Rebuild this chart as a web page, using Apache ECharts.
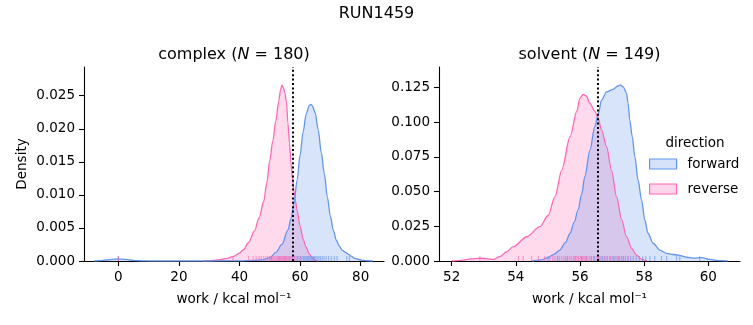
<!DOCTYPE html>
<html><head><meta charset="utf-8">
<script src="https://cdn.jsdelivr.net/npm/echarts@6/dist/echarts.min.js"></script>
<style>html,body{margin:0;padding:0;background:#fff}#c{width:753px;height:325px}</style>
</head><body><div id="c"></div>
<script>
// ---- data ----
const complexFwdX = [-8, -6, -4, -2, 0, 2, 4, 6, 8, 10, 20, 30, 40, 45, 48, 50, 52, 54, 56, 57, 58, 59, 60, 61, 62, 63, 63.5, 64, 65, 66, 67, 68, 69, 70, 71, 72, 73, 74, 75, 76, 77, 78, 80, 82, 84];
const complexFwdY = [0, 0.00005, 0.00015, 0.00026, 0.0003, 0.00026, 0.00015, 0.00006, 0.00002, 0, 0, 0, 0.00002, 0.0001, 0.0002, 0.0005, 0.0013, 0.0025, 0.0047, 0.0064, 0.0087, 0.0122, 0.0160, 0.0195, 0.0222, 0.0235, 0.0237, 0.0235, 0.0224, 0.0198, 0.0164, 0.0132, 0.0097, 0.0068, 0.0046, 0.0031, 0.0022, 0.0016, 0.0013, 0.0010, 0.0007, 0.0004, 0.00015, 0.00004, 0];
const complexRevX = [28, 30, 33, 36, 38, 40, 41.3, 43, 45, 46.5, 48, 49, 50, 51, 52, 53, 53.5, 54, 54.5, 55, 55.5, 56, 56.5, 57, 57.5, 58, 58.5, 59, 60, 61, 62, 63, 64, 65, 66];
const complexRevY = [0, 0.00005, 0.00015, 0.0004, 0.0007, 0.0012, 0.0017, 0.0028, 0.0046, 0.0066, 0.009, 0.0118, 0.0152, 0.0182, 0.0212, 0.0243, 0.0258, 0.0266, 0.0262, 0.0254, 0.0240, 0.0208, 0.0178, 0.0148, 0.0125, 0.0106, 0.009, 0.0077, 0.0053, 0.0033, 0.0021, 0.0011, 0.0005, 0.0001, 0];
const solventFwdX = [54.5, 54.8, 55.0, 55.2, 55.37, 55.55, 55.69, 55.82, 55.94, 56.05, 56.15, 56.31, 56.46, 56.57, 56.67, 56.83, 57.03, 57.18, 57.26, 57.35, 57.45, 57.5, 57.55, 57.63, 57.71, 57.81, 57.92, 58.02, 58.12, 58.28, 58.49, 58.7, 58.9, 59.06, 59.32, 59.55, 59.8, 60.05, 60.36, 60.6];
const solventFwdY = [0, 0.0008, 0.0025, 0.005, 0.0079, 0.0135, 0.02, 0.028, 0.0368, 0.048, 0.0608, 0.08, 0.0968, 0.106, 0.116, 0.122, 0.1238, 0.1262, 0.127, 0.1255, 0.121, 0.1137, 0.1017, 0.0896, 0.0752, 0.0584, 0.044, 0.0296, 0.02, 0.0128, 0.0079, 0.0055, 0.0047, 0.0043, 0.0027, 0.0021, 0.0024, 0.0012, 0.0002, 0];
const solventRevX = [52.0, 52.3, 52.6, 52.88, 53.1, 53.3, 53.5, 53.7, 53.92, 54.34, 54.75, 55.01, 55.22, 55.43, 55.69, 55.9, 56.0, 56.1, 56.2, 56.3, 56.46, 56.56, 56.67, 56.83, 56.98, 57.14, 57.3, 57.45, 57.61, 57.76, 57.92, 58.1];
const solventRevY = [0, 0.0005, 0.0015, 0.002, 0.0016, 0.0012, 0.0031, 0.0065, 0.0103, 0.0175, 0.0248, 0.033, 0.0464, 0.0656, 0.0896, 0.108, 0.1175, 0.1202, 0.119, 0.114, 0.108, 0.1035, 0.0945, 0.0824, 0.0656, 0.0464, 0.0296, 0.0175, 0.0091, 0.0043, 0.0012, 0];

const complexRugFwd = [0, 50.5, 53, 55, 56.5, 57.5, 58.3, 59, 59.6, 60.2, 60.7, 61.2, 61.6, 62, 62.4, 62.8, 63.2, 63.6, 64, 64.4, 64.8, 65.2, 65.7, 66.2, 66.7, 67.3, 67.9, 68.6, 69.4, 70.3, 71.3, 72.2, 75.4, 76.3];
const complexRugRev = [0, 37.8, 43, 44.5, 45.5, 46.5, 47.2, 48, 48.7, 49.3, 49.9, 50.4, 50.9, 51.3, 51.7, 52.1, 52.5, 52.9, 53.2, 53.5, 53.8, 54.1, 54.4, 54.7, 55.0, 55.3, 55.6, 55.9, 56.3, 56.7, 57.1, 57.6, 58.2, 59, 60];
const solventRugFwd = [55.0, 55.3, 55.6, 55.85, 56.05, 56.2, 56.35, 56.45, 56.55, 56.62, 56.7, 56.78, 56.85, 56.92, 57.0, 57.06, 57.12, 57.18, 57.24, 57.3, 57.36, 57.42, 57.5, 57.58, 57.66, 57.75, 57.85, 57.95, 58.05, 58.18, 58.33, 58.54, 58.70, 59.01, 59.11, 59.73];
const solventRugRev = [52.88, 54.08, 54.23, 54.49, 54.70, 54.90, 55.06, 55.15, 55.22, 55.30, 55.36, 55.43, 55.50, 55.55, 55.62, 55.68, 55.73, 55.79, 55.84, 55.90, 55.95, 56.00, 56.04, 56.08, 56.12, 56.16, 56.20, 56.25, 56.30, 56.36, 56.42, 56.50, 56.58, 56.66, 56.75, 56.85, 56.95, 57.05, 57.2, 57.35, 57.5];

const estimates = [57.55, 56.56];           // dotted vertical lines (complex, solvent)
const panelTitles = ['complex', 'solvent'];
const panelN = [180, 149];
const complexXTicks = [0, 20, 40, 60, 80];
const complexYTicks = [0, 0.005, 0.01, 0.015, 0.02, 0.025];
const solventXTicks = [52, 54, 56, 58, 60];
const solventYTicks = [0, 0.025, 0.05, 0.075, 0.1, 0.125];

// ---- styling ----
const FONT = 'DejaVu Sans';
const BLUE = '#6495ED', PINK = '#FF69B4';
const FS = 13.5, FT = 16;
const zip = (xs, ys) => xs.map((x, i) => [x, ys[i]]);

function xAxis(gi, min, max, ticks) {
  return {type: 'value', gridIndex: gi, min, max,
    name: 'work / kcal mol\u207B\u00B9', nameLocation: 'middle', nameGap: 31,
    nameTextStyle: {fontSize: FS, color: '#000', fontFamily: FONT},
    axisLine: {show: true, onZero: false, lineStyle: {color: '#000', width: 1.1}},
    axisTick: {show: true, inside: false, length: 5, lineStyle: {color: '#000', width: 1.1}, customValues: ticks},
    axisLabel: {customValues: ticks, margin: 9, fontSize: FS, color: '#000', fontFamily: FONT},
    splitLine: {show: false}};
}
function yAxis(gi, min, max, ticks, withName) {
  return {type: 'value', gridIndex: gi, min, max,
    name: withName ? 'Density' : '', nameLocation: 'middle', nameGap: 55, nameRotate: 90,
    nameTextStyle: {fontSize: FS, color: '#000', fontFamily: FONT},
    axisLine: {show: true, onZero: false, lineStyle: {color: '#000', width: 1.1}},
    axisTick: {show: true, inside: false, length: 5, lineStyle: {color: '#000', width: 1.1}, customValues: ticks},
    axisLabel: {customValues: ticks, margin: 9, fontSize: FS, color: '#000', fontFamily: FONT,
      formatter: v => v.toFixed(3)},
    splitLine: {show: false}};
}
function kde(name, gi, data, color, est) {
  const s = {type: 'line', name, xAxisIndex: gi, yAxisIndex: gi, data, showSymbol: false, symbol: 'none',
    smooth: 0.3, smoothMonotone: 'x', silent: true, z: 2,
    lineStyle: {color, width: 1.3}, itemStyle: {color}, areaStyle: {color, opacity: 0.25}};
  if (est !== undefined) {
    s.markLine = {silent: true, symbol: ['none', 'none'], label: {show: false},
      lineStyle: {color: '#000', width: 2, type: [2, 2.4]}, data: [{xAxis: est}]};
  }
  return s;
}
function rug(name, gi, vals, color) {
  return {type: 'custom', name, xAxisIndex: gi, yAxisIndex: gi, silent: true, z: 3,
    data: vals.map(v => [v, 0]), encode: {x: 0, y: 1},
    renderItem: (params, api) => {
      const p = api.coord([api.value(0), 0]);
      return {type: 'line', shape: {x1: p[0], y1: p[1], x2: p[0], y2: p[1] - 5},
        style: {stroke: color, lineWidth: 1.2, opacity: 0.6}};
    }};
}
const titleStyle = {fontSize: FT, fontWeight: 'normal', color: '#000', fontFamily: FONT,
  rich: {i: {fontStyle: 'italic', fontSize: FT, color: '#000', fontFamily: FONT}}};

const chart = echarts.init(document.getElementById('c'), null, {renderer: 'canvas'});
chart.setOption({
  animation: false,
  backgroundColor: '#fff',
  title: [
    {text: 'RUN1459', left: 376.5, top: 6, textAlign: 'center', padding: 0, textStyle: titleStyle},
    {text: panelTitles[0] + ' ({i|N} = ' + panelN[0] + ')', left: 234, top: 47, textAlign: 'center', padding: 0, textStyle: titleStyle},
    {text: panelTitles[1] + ' ({i|N} = ' + panelN[1] + ')', left: 589.5, top: 47, textAlign: 'center', padding: 0, textStyle: titleStyle},
    {text: 'direction', left: 695, top: 136, textAlign: 'center', padding: 0,
      textStyle: {fontSize: FS, fontWeight: 'normal', color: '#000', fontFamily: FONT}}
  ],
  legend: {
    orient: 'vertical', left: 649, top: 157, padding: 0, itemGap: 11, itemWidth: 27, itemHeight: 10,
    selectedMode: false,
    textStyle: {fontSize: FS, color: '#000', fontFamily: FONT, padding: [0, 0, 0, 6]},
    data: [
      {name: 'forward', icon: 'rect', itemStyle: {color: 'rgba(100,149,237,0.27)', borderColor: BLUE, borderWidth: 1.2}},
      {name: 'reverse', icon: 'rect', itemStyle: {color: 'rgba(255,105,180,0.27)', borderColor: PINK, borderWidth: 1.2}}
    ]
  },
  grid: [
    {left: 84, top: 67, width: 300, height: 194},
    {left: 439, top: 67, width: 301, height: 194}
  ],
  xAxis: [xAxis(0, -11.32, 87.7, complexXTicks), xAxis(1, 51.604, 60.988, solventXTicks)],
  yAxis: [yAxis(0, 0, 0.02934, complexYTicks, true), yAxis(1, 0, 0.1399, solventYTicks, false)],
  series: [
    kde('reverse', 0, zip(complexRevX, complexRevY), PINK),
    kde('forward', 0, zip(complexFwdX, complexFwdY), BLUE, estimates[0]),
    kde('reverse', 1, zip(solventRevX, solventRevY), PINK),
    kde('forward', 1, zip(solventFwdX, solventFwdY), BLUE, estimates[1]),
    rug('forward rug', 0, complexRugFwd, BLUE),
    rug('reverse rug', 0, complexRugRev, PINK),
    rug('forward rug', 1, solventRugFwd, BLUE),
    rug('reverse rug', 1, solventRugRev, PINK)
  ]
});
</script></body></html>
